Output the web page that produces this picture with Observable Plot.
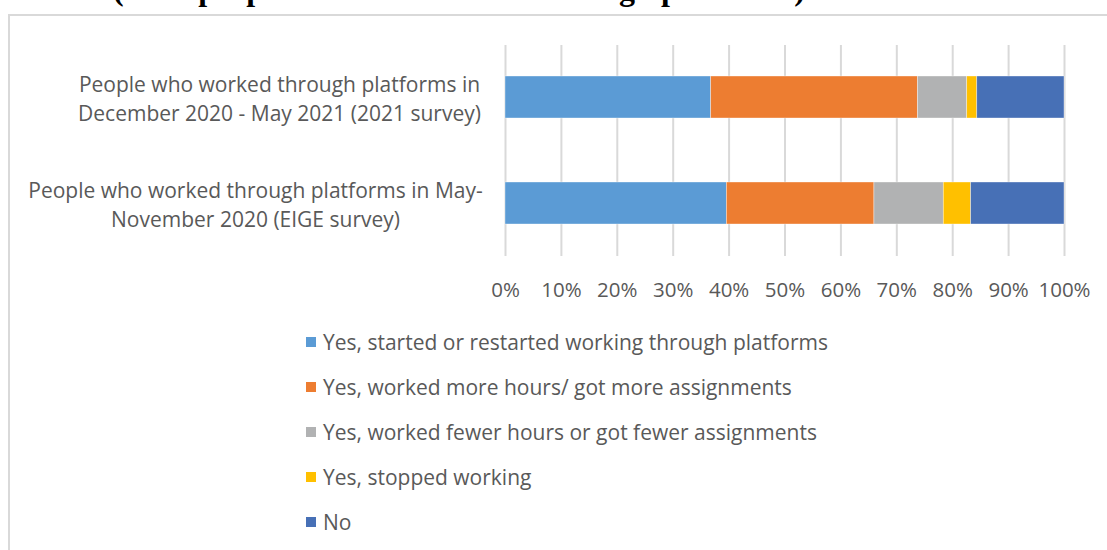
<!DOCTYPE html>
<html>
<head>
<meta charset="utf-8">
<script src="https://cdn.jsdelivr.net/npm/d3@7"></script>
<script src="https://cdn.jsdelivr.net/npm/@observablehq/plot@0.6"></script>
<style>
  html, body { margin: 0; padding: 0; background: #fff; }
  #wrap { position: relative; width: 1107px; height: 550px; overflow: hidden; font-family: "Open Sans", sans-serif; }
  #title { position: absolute; left: 113px; top: -27px; font: bold 32px/32px "Liberation Serif", serif; color: #000; white-space: nowrap; }
  #frame { position: absolute; left: 8px; top: 14px; width: 1200px; height: 600px; border-left: 2px solid #d9d9d9; border-top: 2px solid #d9d9d9; }
  #chart { position: absolute; left: 0; top: 0; }
  #legend { position: absolute; left: 306px; top: 319px; }
  .item { height: 45px; display: flex; align-items: center; font-size: 21px; color: #595959; white-space: nowrap; }
  .item .sw { width: 10px; height: 10px; margin-right: 7px; flex: none; }
</style>
</head>
<body>
<div id="wrap">
  <div id="title">(% of people who have worked through platforms)</div>
  <div id="frame"></div>
  <div id="chart"></div>
  <div id="legend"></div>
</div>
<script>
// ---- data ----
const categories = [
  "People who worked through platforms in\nDecember 2020 - May 2021 (2021 survey)",
  "People who worked through platforms in May-\nNovember 2020 (EIGE survey)"
];
const seriesNames = [
  "Yes, started or restarted working through platforms",
  "Yes, worked more hours/ got more assignments",
  "Yes, worked fewer hours or got fewer assignments",
  "Yes, stopped working",
  "No"
];
const seriesColors = ["#5B9BD5", "#ED7D31", "#B1B2B3", "#FFC000", "#4770B6"];
// values per series: [2021 survey, EIGE survey] in %
const startedValues = [36.8, 39.6];
const moreHoursValues = [37.0, 26.4];
const fewerHoursValues = [8.8, 12.4];
const stoppedValues = [1.8, 4.9];
const noValues = [15.6, 16.7];
const xTicks = [0, 10, 20, 30, 40, 50, 60, 70, 80, 90, 100];

const seriesValues = [startedValues, moreHoursValues, fewerHoursValues, stoppedValues, noValues];
const rows = [];
seriesNames.forEach((s, i) => categories.forEach((c, j) => rows.push({series: s, category: c, value: seriesValues[i][j]})));

const txt = "#595959";
const chart = Plot.plot({
  width: 1107,
  height: 300,
  marginLeft: 505,
  marginRight: 43,
  marginTop: 45,
  marginBottom: 44,
  style: {fontFamily: "Open Sans, sans-serif", fontSize: "20.5px", color: txt, background: "transparent", overflow: "visible"},
  x: {domain: [0, 100], ticks: xTicks, tickFormat: d => d + "%", tickSize: 0, tickPadding: 26, label: null},
  y: {domain: categories, axis: null, paddingInner: 0.6, paddingOuter: 0.29},
  color: {domain: seriesNames, range: seriesColors},
  marks: [
    Plot.ruleX(xTicks, {stroke: "#d9d9d9", strokeWidth: 2}),
    Plot.barX(rows, Plot.stackX({x: "value", y: "category", fill: "series", order: seriesNames, stroke: "#fff", strokeWidth: 0.6, strokeOpacity: 0.6})),
    Plot.text([categories[0]], {y: d => d, text: d => d, frameAnchor: "left", textAnchor: "middle", dx: -226, lineHeight: 1.36, fill: txt, fontSize: 21}),
    Plot.text([categories[1]], {y: d => d, text: d => d, frameAnchor: "left", textAnchor: "middle", dx: -250, lineHeight: 1.36, fill: txt, fontSize: 21})
  ]
});
document.getElementById("chart").appendChild(chart);

const legend = d3.select("#legend");
seriesNames.forEach((s, i) => {
  const it = legend.append("div").attr("class", "item");
  it.append("div").attr("class", "sw").style("background", seriesColors[i]);
  it.append("span").text(s);
});
</script>
</body>
</html>
